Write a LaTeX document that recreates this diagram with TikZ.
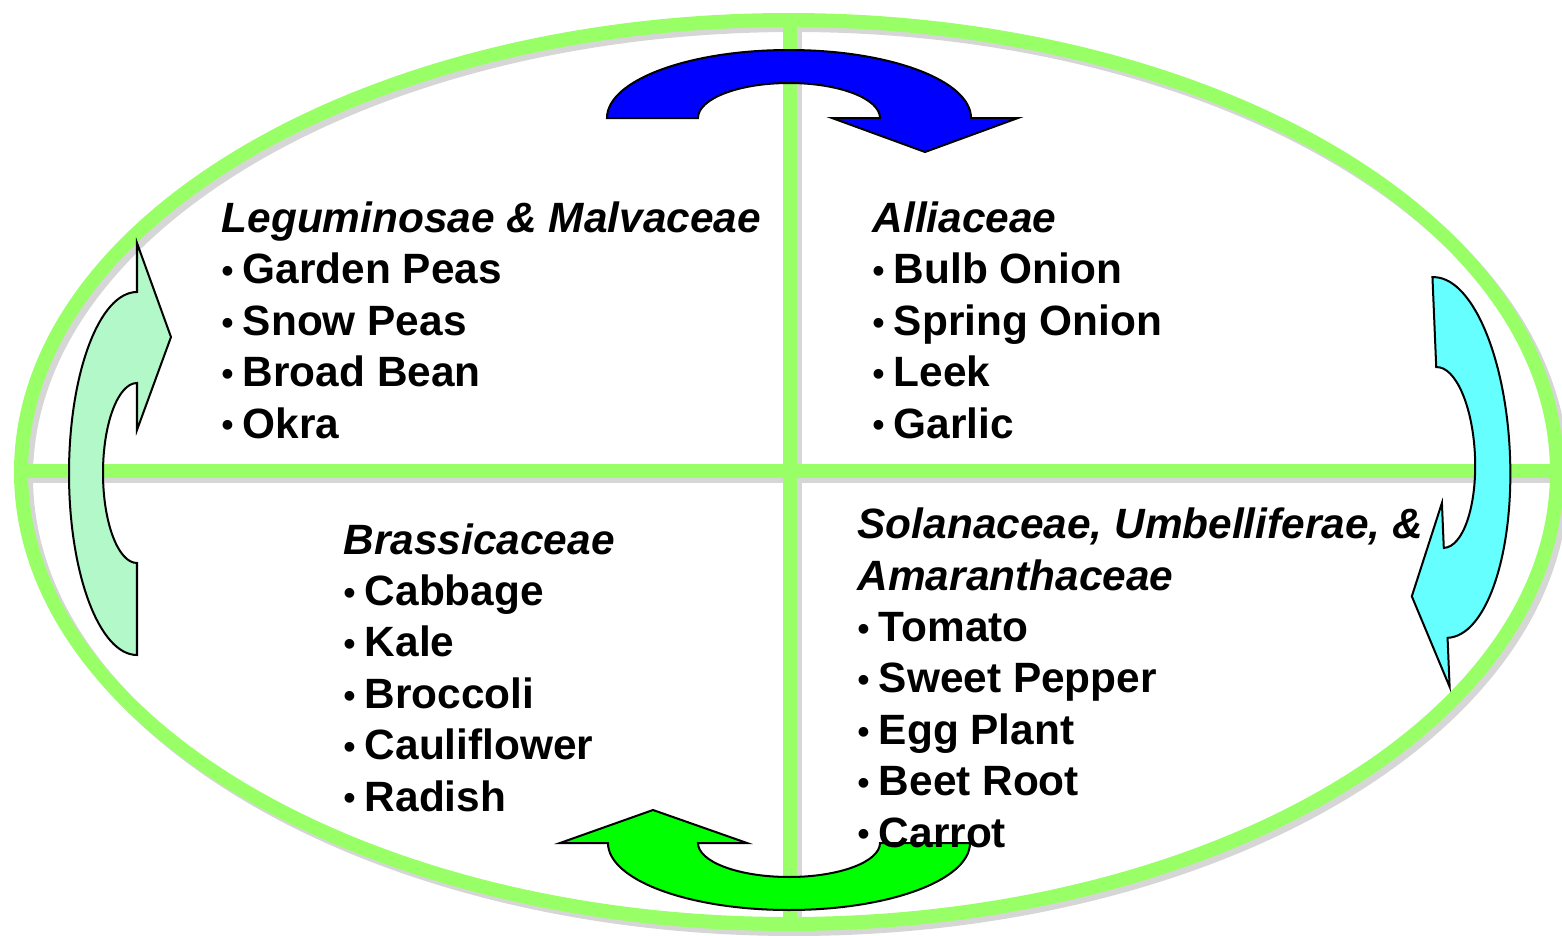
\documentclass[tikz,border=0pt]{standalone}
\usepackage{fontspec}
\setmainfont{Liberation Sans}
\usepackage{xcolor}
\usepackage{graphicx}
\usepackage{tikz}
\usetikzlibrary{positioning}
\definecolor{ring}{HTML}{99FF66}
\definecolor{ringshade}{HTML}{D6D6D6}
\definecolor{topblue}{HTML}{0000FF}
\definecolor{botgreen}{HTML}{00FF00}
\definecolor{rightcyan}{HTML}{66FFFF}
\definecolor{leftmint}{HTML}{B3F8C8}
\newcommand{\crop}[1]{\makebox[0.5em][l]{\raisebox{0.03em}{\scalebox{0.8}{\textbullet}}}#1}

\begin{document}
\begin{tikzpicture}[
  x=0.01cm,y=-0.01cm,
  family/.style={anchor=base west,inner sep=0pt,align=left,
                 font=\fontsize{12.05}{14.6}\selectfont\bfseries},
  ringline/.style={draw=ring,line width=0.14cm},
  shadeline/.style={draw=ringshade,line width=0.14cm},
  swoosh/.style={draw=black,line width=0.02cm,line join=miter}
]
\useasboundingbox (0,0) rectangle (1562,936);

% --- shadow of the ring
\begin{scope}[shift={(5,5)}]
  \draw[shadeline] (789,472) ellipse[x radius=768,y radius=452];
  \draw[shadeline] (21,471) -- (1557,471);
  \draw[shadeline] (790,20) -- (790,924);
\end{scope}

% --- ring and quadrants
\draw[ringline] (789,472) ellipse[x radius=768,y radius=452];
\draw[ringline] (21,471) -- (1557,471);
\draw[ringline] (790,20) -- (790,924);

% --- rotation arrows
\draw[swoosh,fill=topblue] (607,118)
  arc[start angle=180,end angle=360,x radius=182,y radius=68]
  -- (1018,118) -- (925,152) -- (832,118) -- (880,118)
  arc[start angle=0,end angle=-180,x radius=91,y radius=35] -- cycle;
\begin{scope}[rotate around={2.4:(1440,457)}]
  \draw[swoosh,fill=rightcyan] (1440,277)
    arc[start angle=-90,end angle=90,x radius=70,y radius=180.5]
    -- (1440,687) -- (1406,595) -- (1440,503) -- (1440,548)
    arc[start angle=90,end angle=-90,x radius=35,y radius=90.5] -- cycle;
\end{scope}
\draw[swoosh,fill=botgreen] (560,843) -- (653,810) -- (747,843) -- (698,843)
  arc[start angle=180,end angle=0,x radius=91,y radius=34]
  -- (970,843)
  arc[start angle=0,end angle=180,x radius=181,y radius=67] -- cycle;
\draw[swoosh,fill=leftmint] (137,655)
  arc[start angle=90,end angle=270,x radius=68,y radius=181.5]
  -- (137,243) -- (171,337) -- (137,430) -- (137,383)
  arc[start angle=270,end angle=90,x radius=34,y radius=90] -- cycle;

% --- crop families (anchored at the last baseline)
\node[family] (legumes) at (221,438) {\textit{Leguminosae \& Malvaceae}\\
  \crop{Garden Peas}\\\crop{Snow Peas}\\\crop{Broad Bean}\\\crop{Okra}};
\node[family] (alliums) at (872,438) {\textit{Alliaceae}\\
  \crop{Bulb Onion}\\\crop{Spring Onion}\\\crop{Leek}\\\crop{Garlic}};
\node[family] (brassicas) at (343,811) {\textit{Brassicaceae}\\
  \crop{Cabbage}\\\crop{Kale}\\\crop{Broccoli}\\\crop{Cauliflower}\\\crop{Radish}};
\node[family] (solanums) at (857,847) {\textit{Solanaceae, Umbelliferae, \&}\\
  \textit{Amaranthaceae}\\
  \crop{Tomato}\\\crop{Sweet Pepper}\\\crop{Egg Plant}\\\crop{Beet Root}\\\crop{Carrot}};
\end{tikzpicture}
\end{document}
